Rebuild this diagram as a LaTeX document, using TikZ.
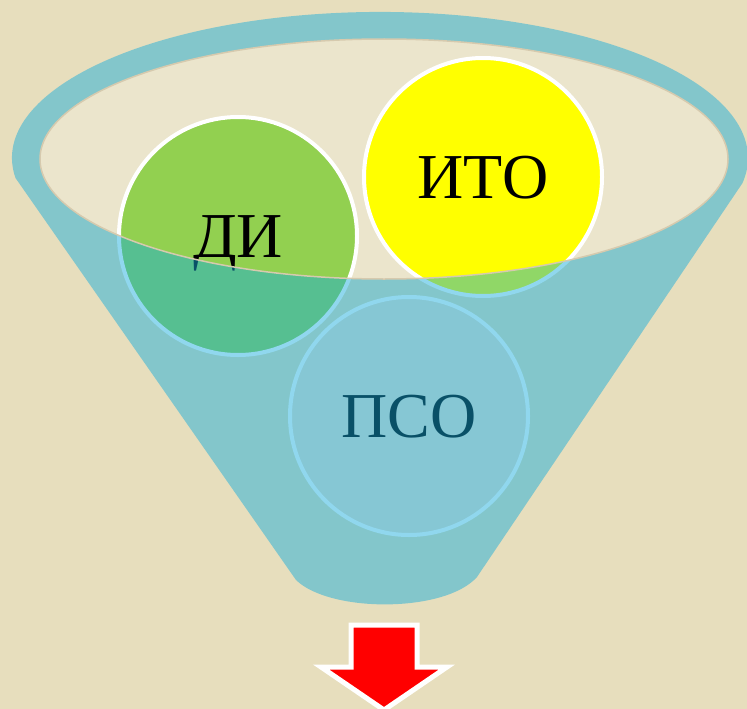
\documentclass[tikz,border=0pt]{standalone}
\usepackage{fontspec}
\setmainfont{Liberation Serif}
\usepackage{tikz}
\usetikzlibrary{positioning}
\usepackage{xcolor}
\definecolor{Paper}{HTML}{E7DEBD}
\definecolor{Mouth}{HTML}{EBE5CC}
\definecolor{MouthEdge}{HTML}{D6CAAE}
\definecolor{Funnel}{HTML}{14ACDC}
\definecolor{Lime}{HTML}{92D050}
\definecolor{Sun}{HTML}{FFFF00}
\definecolor{Pale}{HTML}{EDDFCE}
\definecolor{ArrowRed}{HTML}{FF0000}
\newcommand{\bubblefont}{\fontsize{64}{70}\selectfont}

\begin{document}
\begin{tikzpicture}[x=1pt,y=-1pt,
  bubble/.style={circle,draw=white,line width=4pt,minimum size=238pt,inner sep=0pt,
    text height=42pt,text depth=0pt,font=\bubblefont},
  funnelbody/.style={fill=Funnel,fill opacity=0.47,even odd rule}]
  \useasboundingbox (0,0) rectangle (747,709);
  \fill[Paper] (0,0) rectangle (747,709);
  \fill[Mouth] (384,159) ellipse[x radius=344,y radius=120];
  \node[bubble,fill=Lime] (di) at (238,236) {ДИ};
  \node[bubble,fill=Sun] (ito) at (483,177) {ИТО};
  \node[bubble,fill=Pale] (pso) at (409,416) {ПСО};
  \fill[funnelbody] (15.5,178) arc[start angle=172.1,end angle=369.9,x radius=368,y radius=146]
    -- (477,577) .. controls (445,613) and (330,613) .. (296,580) -- cycle
    (384,159) ellipse[x radius=344,y radius=120];
  \draw[MouthEdge,line width=1.5pt] (384,159) ellipse[x radius=344,y radius=120];
  \filldraw[fill=ArrowRed,draw=white,line width=5pt] (351,625) -- (417,625) -- (417,667)
    -- (447,667) -- (384,710) -- (321,667) -- (351,667) -- cycle;
\end{tikzpicture}
\end{document}
